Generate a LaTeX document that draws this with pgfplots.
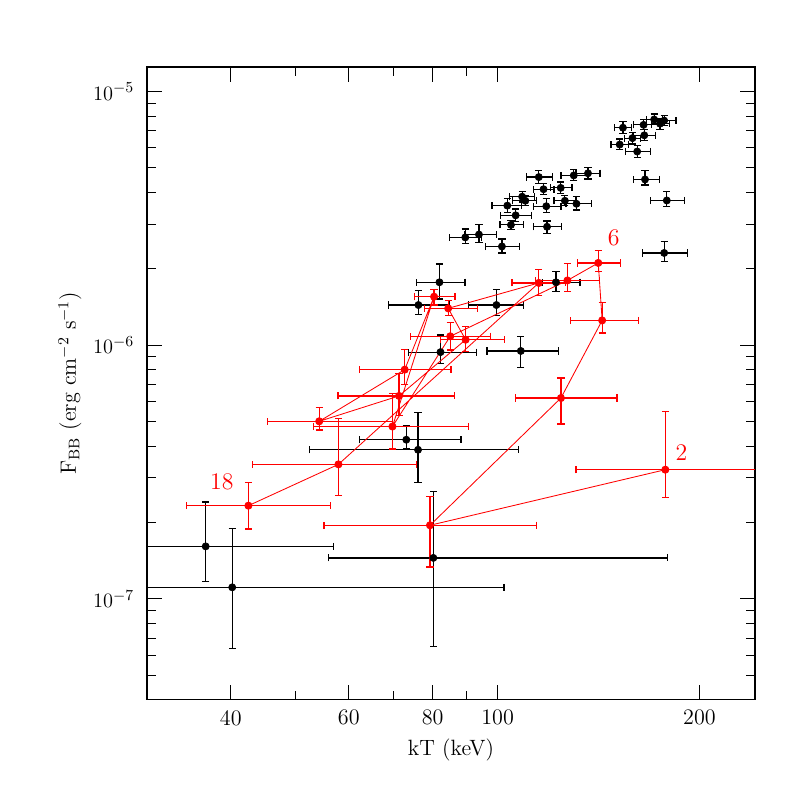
\documentclass[border=0pt]{standalone}
\usepackage{pgfplots}
\usepackage{pgfplotstable}
\pgfplotsset{compat=1.18}

% columns: centre, lower and upper bound in x and y
\pgfplotstableread{
x      xlo    xhi    y         ylo       yhi
153.8  149.2  158.5  7.20e-6   6.85e-6   7.62e-6
165.1  159.5  169.6  7.39e-6   7.06e-6   7.76e-6
171.2  166.9  176.2  7.76e-6   7.39e-6   8.15e-6
174.7  169.6  180.3  7.47e-6   7.11e-6   7.85e-6
177.2  171.9  184.5  7.68e-6   7.33e-6   8.03e-6
165.5  159.5  171.9  6.72e-6   6.40e-6   7.06e-6
158.9  154.6  163.3  6.55e-6   6.21e-6   6.90e-6
152.1  147.6  156.7  6.18e-6   5.89e-6   6.50e-6
161.5  155.2  168.9  5.80e-6   5.50e-6   6.11e-6
165.9  159.5  174.3  4.50e-6   4.28e-6   4.89e-6
178.8  169.1  190.2  3.72e-6   3.51e-6   4.03e-6
177.2  164.6  191.8  2.31e-6   2.14e-6   2.56e-6
115.2  110.4  120.6  4.60e-6   4.35e-6   4.87e-6
129.9  124.3  136.0  4.67e-6   4.45e-6   4.93e-6
136.4  130.9  142.1  4.76e-6   4.52e-6   5.02e-6
117.1  113.0  121.4  4.12e-6   3.93e-6   4.35e-6
124.2  119.8  129.1  4.17e-6   3.97e-6   4.40e-6
108.8  104.1  113.5  3.85e-6   3.67e-6   4.03e-6
110.0  105.3  114.3  3.71e-6   3.55e-6   3.88e-6
103.4  98.1   108.5  3.55e-6   3.34e-6   3.78e-6
118.2  113.0  124.3  3.53e-6   3.34e-6   3.78e-6
126.0  121.4  130.9  3.71e-6   3.55e-6   3.88e-6
131.1  126.5  137.9  3.61e-6   3.41e-6   3.85e-6
106.4  101.1  112.4  3.25e-6   3.07e-6   3.44e-6
104.7  100.8  109.4  2.98e-6   2.85e-6   3.10e-6
118.5  113.0  124.6  2.93e-6   2.76e-6   3.09e-6
89.5   84.7   94.7   2.66e-6   2.51e-6   2.87e-6
93.8   89.4   99.7   2.73e-6   2.54e-6   2.98e-6
101.5  96.0   107.9  2.45e-6   2.31e-6   2.62e-6
81.9   75.6   89.4   1.77e-6   1.52e-6   2.09e-6
76.2   68.7   84.7   1.44e-6   1.325e-6  1.64e-6
99.6   90.4   109.4  1.44e-6   1.31e-6   1.66e-6
122.2  116.6  132.7  1.77e-6   1.625e-6  1.95e-6
82.2   73.7   92.9   9.39e-7   8.47e-7   1.096e-6
108.3  96.4   123.1  9.49e-7   8.16e-7   1.084e-6
73.1   62.3   88.2   4.24e-7   3.90e-7   4.80e-7
76.1   52.4   107.5  3.87e-7   2.88e-7   5.42e-7
36.7   20.0   57.0   1.61e-7   1.17e-7   2.41e-7
40.2   20.0   102.2  1.11e-7   6.39e-8   1.89e-7
80.2   56.0   179.3  1.45e-7   6.51e-8   2.64e-7
}\blackpts

% time-ordered intervals 2 ... 18
\pgfplotstableread{
x      xlo    xhi    y         ylo       yhi
177.9  130.9  260.0  3.23e-7   2.50e-7   5.48e-7
79.3   55.1   114.3  1.95e-7   1.335e-7  2.54e-7
124.3  106.4  150.7  6.19e-7   4.89e-7   7.42e-7
143.2  128.3  162.4  1.252e-6  1.117e-6  1.478e-6
141.3  131.5  152.5  2.11e-6   1.95e-6   2.36e-6
127.1  113.8  141.9  1.80e-6   1.625e-6  2.10e-6
85.0   74.1   97.7   1.084e-6  9.57e-7   1.228e-6
69.7   53.1   90.4   4.78e-7   3.90e-7   6.43e-7
80.4   75.1   86.4   1.553e-6  1.44e-6   1.657e-6
72.7   62.3   85.2   8.01e-7   7.01e-7   9.60e-7
54.2   45.4   69.8   5.01e-7   4.63e-7   5.67e-7
71.3   57.8   86.2   6.31e-7   5.28e-7   7.71e-7
89.6   82.1   102.4  1.051e-6  9.42e-7   1.183e-6
84.4   77.8   93.4   1.397e-6  1.31e-6   1.496e-6
115.2  105.1  126.2  1.76e-6   1.565e-6  1.99e-6
57.9   43.1   75.7   3.39e-7   2.56e-7   5.14e-7
42.5   34.4   56.3   2.33e-7   1.885e-7  2.88e-7
}\redpts

\pgfplotsset{
  table/xy bounds/.style={
    x=x, y=y,
    x error plus expr=\thisrow{xhi}-\thisrow{x},
    x error minus expr=\thisrow{x}-\thisrow{xlo},
    y error plus expr=\thisrow{yhi}-\thisrow{y},
    y error minus expr=\thisrow{y}-\thisrow{ylo},
  },
  both errors/.style={
    error bars/.cd,
    x dir=both, x explicit,
    y dir=both, y explicit,
    error bar style={line width=0.7pt,#1},
    error mark options={rotate=90,mark size=2.1pt,line width=0.7pt,#1},
  },
}

\begin{document}
\begin{tikzpicture}
\begin{axis}[
    name=ax,
    scale only axis,
    width=357pt, height=371.6pt,
    xmode=log, ymode=log,
    xmin=30, xmax=242,
    ymin=4e-8, ymax=1.25e-5,
    xtick={40,60,80,100,200},
    xticklabels={40,60,80,100,200},
    minor xtick={50,70,90},
    tick align=inside,
    tick pos=both,
    major tick length=8.8pt,
    minor tick length=5.3pt,
    axis line style={line width=0.8pt},
    every tick/.style={black,line width=0.6pt},
    tick label style={font=\fontsize{13}{15}\selectfont},
    xticklabel style={yshift=-2.5pt},
    yticklabel style={xshift=-4pt},
    label style={font=\fontsize{13}{15}\selectfont},
    xlabel style={yshift=-1pt},
    xlabel={kT (keV)},
    ylabel={F$_{\mathrm{BB}}$ (erg cm$^{-2}$ s$^{-1}$)},
]
\addplot[only marks, mark=*, mark size=2.1pt, black,
    both errors=black] table[xy bounds] {\blackpts};

\addplot[red, line width=0.5pt, mark=*, mark size=2.1pt,
    mark options={solid,fill=red},
    both errors=red] table[xy bounds] {\redpts};

\node[red, font=\fontsize{14}{16}\selectfont] at (axis cs:188,3.78e-7) {2};
\node[red, font=\fontsize{14}{16}\selectfont] at (axis cs:149,2.65e-6) {6};
\node[red, font=\fontsize{14}{16}\selectfont] at (axis cs:38.8,2.9e-7) {18};
\end{axis}
\path ([xshift=-86.3pt,yshift=-56.9pt]ax.south west)
    rectangle ([xshift=24.7pt,yshift=39.3pt]ax.north east);
\end{tikzpicture}
\end{document}
